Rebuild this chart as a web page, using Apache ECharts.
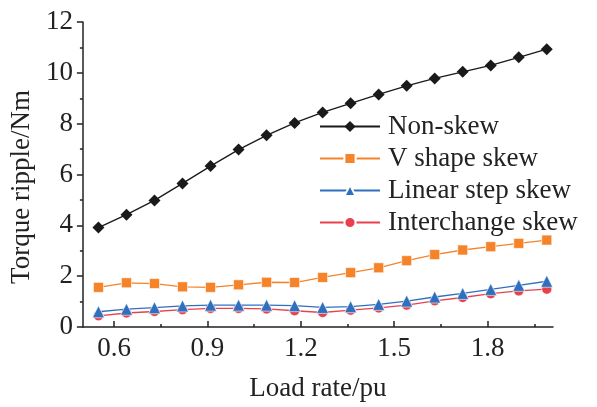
<!DOCTYPE html>
<html>
<head>
<meta charset="utf-8">
<script src="https://cdn.jsdelivr.net/npm/echarts@6/dist/echarts.min.js"></script>
<style>
  html, body { margin: 0; padding: 0; background: #fff; }
  #chart { width: 597px; height: 407px; }
</style>
</head>
<body>
<div id="chart"></div>
<script>
const loadRate = [0.55, 0.64, 0.73, 0.82, 0.91, 1.0, 1.09, 1.18, 1.27, 1.36, 1.45, 1.54, 1.63, 1.72, 1.81, 1.90, 1.99]
const nonSkew = [3.91, 4.42, 4.98, 5.65, 6.33, 6.98, 7.54, 8.03, 8.44, 8.80, 9.15, 9.49, 9.78, 10.04, 10.29, 10.61, 10.93]
const vShape = [1.56, 1.74, 1.71, 1.58, 1.56, 1.66, 1.76, 1.75, 1.95, 2.14, 2.33, 2.61, 2.85, 3.03, 3.16, 3.29, 3.42]
const linearStep = [0.60, 0.70, 0.76, 0.83, 0.86, 0.86, 0.86, 0.84, 0.77, 0.80, 0.89, 1.02, 1.18, 1.32, 1.48, 1.64, 1.80]
const interchange = [0.44, 0.55, 0.61, 0.68, 0.73, 0.73, 0.71, 0.64, 0.57, 0.66, 0.75, 0.86, 1.03, 1.16, 1.31, 1.42, 1.49]
const xMajorTicks = [0.6, 0.9, 1.2, 1.5, 1.8]
const xMinorTicks = [0.75, 1.05, 1.35, 1.65, 1.95]

const FONT = '"Liberation Serif", "DejaVu Serif", serif'
const INK = '#222'

const pairs = (ys) => ys.map((y, i) => [loadRate[i], y])

function lineSeries(name, ys, color, symbol, size, border, z) {
  return {
    name,
    type: 'line',
    z,
    data: pairs(ys),
    symbol,
    symbolSize: size,
    lineStyle: { color, width: 1.3 },
    itemStyle: { color, borderColor: border ? '#fff' : color, borderWidth: border ? 0.6 : 0 },
    emphasis: { disabled: true },
  }
}

const chart = echarts.init(document.getElementById('chart'))
chart.setOption({
  animation: false,
  textStyle: { fontFamily: FONT },
  grid: { left: 82, right: 44, top: 22, bottom: 79 },
  legend: {
    orient: 'vertical',
    left: 314,
    top: 108,
    itemWidth: 60,
    itemHeight: 14,
    itemGap: 5,
    textStyle: { fontFamily: FONT, fontSize: 27, color: INK, lineHeight: 27, padding: [0, 0, 0, 3] },
  },
  xAxis: [{
    type: 'value',
    min: 0.5,
    max: 2.01,
    name: 'Load rate/pu',
    nameLocation: 'middle',
    nameGap: 48,
    nameTextStyle: { fontFamily: FONT, fontSize: 27, color: INK },
    axisLine: { lineStyle: { color: INK, width: 1.5 } },
    axisTick: { inside: true, length: 6, customValues: xMajorTicks, lineStyle: { color: INK, width: 1.5 } },
    axisLabel: { customValues: xMajorTicks, margin: 8, fontFamily: FONT, fontSize: 27, color: INK },
    splitLine: { show: false },
  }, {
    type: 'value',
    min: 0.5,
    max: 2.01,
    position: 'bottom',
    axisLine: { show: false },
    axisTick: { inside: true, length: 3, customValues: xMinorTicks, lineStyle: { color: INK, width: 1.5 } },
    axisLabel: { show: false },
    splitLine: { show: false },
  }],
  yAxis: {
    type: 'value',
    min: 0,
    max: 12,
    interval: 2,
    name: 'Torque ripple/Nm',
    nameLocation: 'middle',
    nameGap: 44,
    nameTextStyle: { fontFamily: FONT, fontSize: 27, color: INK, padding: [0, 25, 0, 0] },
    axisLine: { show: true, lineStyle: { color: INK, width: 1.5 } },
    axisTick: { show: true, length: 6, lineStyle: { color: INK, width: 1.5 } },
    minorTick: { show: true, splitNumber: 2, length: 3, lineStyle: { color: INK, width: 1.5 } },
    axisLabel: { margin: 10, fontFamily: FONT, fontSize: 27, color: INK },
    splitLine: { show: false },
  },
  series: [
    lineSeries('Non-skew', nonSkew, '#1a1a1a', 'diamond', 12, false, 2),
    lineSeries('V shape skew', vShape, '#f5832a', 'rect', 10, true, 2),
    lineSeries('Linear step skew', linearStep, '#2f70be', 'triangle', 12, true, 3),
    lineSeries('Interchange skew', interchange, '#e8414c', 'circle', 10, true, 2),
  ],
})
</script>
</body>
</html>
